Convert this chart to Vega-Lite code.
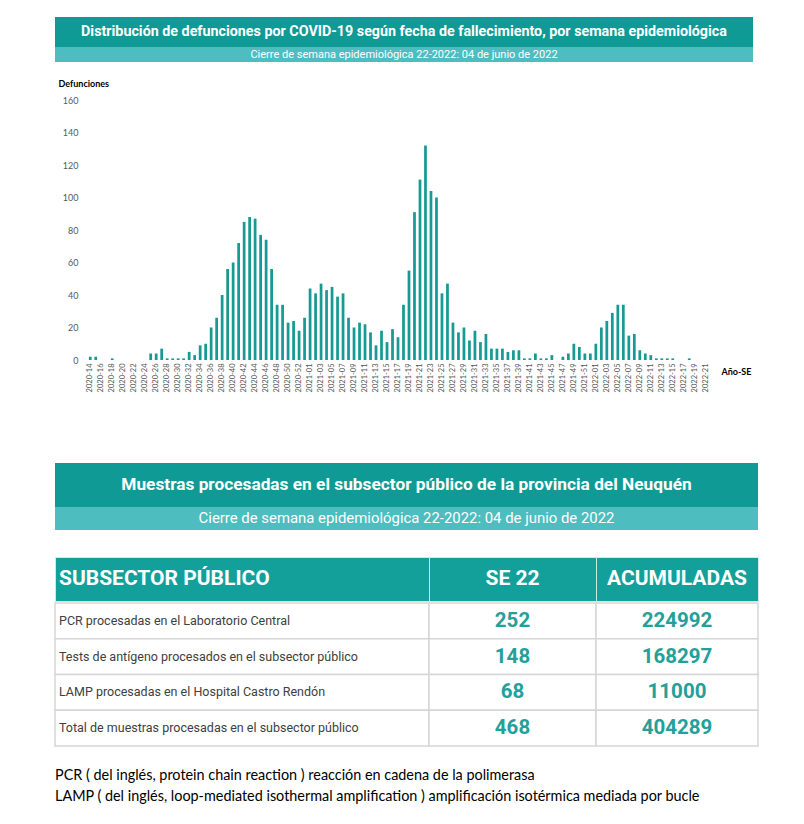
{
  "$schema": "https://vega.github.io/schema/vega-lite/v6.json",
  "padding": {"top": 17, "left": 54, "right": 0, "bottom": 0},
  "background": "white",
  "spacing": 0,
  "config": {"view": {"stroke": null}, "concat": {"spacing": 0}},
  "datasets": {
    "defunciones": [
      {"se": "2020-14", "def": 2}, {"se": "2020-15", "def": 2}, {"se": "2020-16", "def": 0}, {"se": "2020-17", "def": 0},
      {"se": "2020-18", "def": 1}, {"se": "2020-19", "def": 0}, {"se": "2020-20", "def": 0}, {"se": "2020-21", "def": 0},
      {"se": "2020-22", "def": 0}, {"se": "2020-23", "def": 0}, {"se": "2020-24", "def": 0}, {"se": "2020-25", "def": 4},
      {"se": "2020-26", "def": 4}, {"se": "2020-27", "def": 7}, {"se": "2020-28", "def": 1}, {"se": "2020-29", "def": 1},
      {"se": "2020-30", "def": 1}, {"se": "2020-31", "def": 1}, {"se": "2020-32", "def": 5}, {"se": "2020-33", "def": 3},
      {"se": "2020-34", "def": 9}, {"se": "2020-35", "def": 10}, {"se": "2020-36", "def": 20}, {"se": "2020-37", "def": 26},
      {"se": "2020-38", "def": 40}, {"se": "2020-39", "def": 56}, {"se": "2020-40", "def": 60}, {"se": "2020-41", "def": 72},
      {"se": "2020-42", "def": 85}, {"se": "2020-43", "def": 88}, {"se": "2020-44", "def": 87}, {"se": "2020-45", "def": 77},
      {"se": "2020-46", "def": 74}, {"se": "2020-47", "def": 56}, {"se": "2020-48", "def": 34}, {"se": "2020-49", "def": 34},
      {"se": "2020-50", "def": 23}, {"se": "2020-51", "def": 24}, {"se": "2020-52", "def": 18}, {"se": "2020-53", "def": 26},
      {"se": "2021-01", "def": 44}, {"se": "2021-02", "def": 41}, {"se": "2021-03", "def": 47}, {"se": "2021-04", "def": 43},
      {"se": "2021-05", "def": 45}, {"se": "2021-06", "def": 39}, {"se": "2021-07", "def": 41}, {"se": "2021-08", "def": 26},
      {"se": "2021-09", "def": 20}, {"se": "2021-10", "def": 23}, {"se": "2021-11", "def": 22}, {"se": "2021-12", "def": 17},
      {"se": "2021-13", "def": 9}, {"se": "2021-14", "def": 18}, {"se": "2021-15", "def": 11}, {"se": "2021-16", "def": 19},
      {"se": "2021-17", "def": 14}, {"se": "2021-18", "def": 34}, {"se": "2021-19", "def": 55}, {"se": "2021-20", "def": 91},
      {"se": "2021-21", "def": 111}, {"se": "2021-22", "def": 132}, {"se": "2021-23", "def": 104}, {"se": "2021-24", "def": 100},
      {"se": "2021-25", "def": 41}, {"se": "2021-26", "def": 47}, {"se": "2021-27", "def": 23}, {"se": "2021-28", "def": 17},
      {"se": "2021-29", "def": 20}, {"se": "2021-30", "def": 12}, {"se": "2021-31", "def": 18}, {"se": "2021-32", "def": 11},
      {"se": "2021-33", "def": 16}, {"se": "2021-34", "def": 7}, {"se": "2021-35", "def": 7}, {"se": "2021-36", "def": 7},
      {"se": "2021-37", "def": 5}, {"se": "2021-38", "def": 6}, {"se": "2021-39", "def": 6}, {"se": "2021-40", "def": 1},
      {"se": "2021-41", "def": 1}, {"se": "2021-42", "def": 4}, {"se": "2021-43", "def": 1}, {"se": "2021-44", "def": 1},
      {"se": "2021-45", "def": 3}, {"se": "2021-46", "def": 0}, {"se": "2021-47", "def": 2}, {"se": "2021-48", "def": 4},
      {"se": "2021-49", "def": 10}, {"se": "2021-50", "def": 8}, {"se": "2021-51", "def": 4}, {"se": "2021-52", "def": 4},
      {"se": "2022-01", "def": 10}, {"se": "2022-02", "def": 20}, {"se": "2022-03", "def": 24}, {"se": "2022-04", "def": 29},
      {"se": "2022-05", "def": 34}, {"se": "2022-06", "def": 34}, {"se": "2022-07", "def": 15}, {"se": "2022-08", "def": 16},
      {"se": "2022-09", "def": 6}, {"se": "2022-10", "def": 4}, {"se": "2022-11", "def": 3}, {"se": "2022-12", "def": 1},
      {"se": "2022-13", "def": 1}, {"se": "2022-14", "def": 1}, {"se": "2022-15", "def": 1}, {"se": "2022-16", "def": 0},
      {"se": "2022-17", "def": 0}, {"se": "2022-18", "def": 1}, {"se": "2022-19", "def": 0}, {"se": "2022-20", "def": 0},
      {"se": "2022-21", "def": 0}, {"se": "2022-22", "def": 0}
    ],
    "tabla": [
      {"concepto": "PCR procesadas en el Laboratorio Central", "se22": 252, "acumuladas": 224992},
      {"concepto": "Tests de antígeno procesados en el subsector público", "se22": 148, "acumuladas": 168297},
      {"concepto": "LAMP procesadas en el Hospital Castro Rendón", "se22": 68, "acumuladas": 11000},
      {"concepto": "Total de muestras procesadas en el subsector público", "se22": 468, "acumuladas": 404289}
    ],
    "notas": [
      {"n": 1, "t": "PCR ( del inglés, protein chain reaction ) reacción en cadena de la polimerasa"},
      {"n": 2, "t": "LAMP ( del inglés, loop-mediated isothermal amplification ) amplificación isotérmica mediada por bucle"}
    ]
  },
  "vconcat": [
    {
      "width": 698, "height": 30,
      "view": {"fill": "#0f9a95", "stroke": null},
      "data": {"values": [{"t": "Distribución de defunciones por COVID-19 según fecha de fallecimiento, por semana epidemiológica"}]},
      "mark": {"type": "text", "color": "white", "font": "Roboto", "fontSize": 14.3, "fontWeight": "bold"},
      "encoding": {"text": {"field": "t"}}
    },
    {
      "width": 698, "height": 15,
      "view": {"fill": "#4dbdc0", "stroke": null},
      "data": {"values": [{"t": "Cierre de semana epidemiológica 22-2022: 04 de junio de 2022"}]},
      "mark": {"type": "text", "color": "white", "font": "Roboto", "fontSize": 11},
      "encoding": {"text": {"field": "t"}}
    },
    {"width": 1, "height": 17, "view": {"fill": "white", "stroke": null}, "data": {"values": []}, "mark": "point", "encoding": {}},
    {
      "width": 659, "height": 260,
      "data": {"name": "defunciones"},
      "mark": {"type": "bar", "color": "#179a94"},
      "encoding": {
        "x": {
          "field": "se", "type": "nominal", "sort": null,
          "scale": {"paddingInner": 0.5, "paddingOuter": 0.25, "range": [32.5, 659]},
          "axis": {
            "title": "Año-SE", "titleX": 666, "titleY": 11, "titleAlign": "left", "titleBaseline": "middle",
            "titleFont": "Lato", "titleFontSize": 9, "titleFontWeight": "bold", "titleColor": "#000000",
            "labelAngle": -90, "labelFont": "Lato", "labelFontSize": 7.5, "labelColor": "#555555", "labelPadding": 3,
            "labelOverlap": false, "domain": false, "ticks": false,
            "values": ["2020-14","2020-16","2020-18","2020-20","2020-22","2020-24","2020-26","2020-28","2020-30","2020-32","2020-34","2020-36","2020-38","2020-40","2020-42","2020-44","2020-46","2020-48","2020-50","2020-52",
                       "2021-01","2021-03","2021-05","2021-07","2021-09","2021-11","2021-13","2021-15","2021-17","2021-19","2021-21","2021-23","2021-25","2021-27","2021-29","2021-31","2021-33","2021-35","2021-37","2021-39","2021-41","2021-43","2021-45","2021-47","2021-49","2021-51",
                       "2022-01","2022-03","2022-05","2022-07","2022-09","2022-11","2022-13","2022-15","2022-17","2022-19","2022-21"]
          }
        },
        "y": {
          "field": "def", "type": "quantitative",
          "scale": {"domain": [0, 160], "nice": false},
          "axis": {
            "values": [0, 20, 40, 60, 80, 100, 120, 140, 160],
            "grid": false, "domain": false, "ticks": false, "offset": -32.5, "labelPadding": 9.5,
            "labelFont": "Lato", "labelFontSize": 9, "labelColor": "#595959",
            "title": "Defunciones", "titleAngle": 0, "titleX": -29.5, "titleY": -17, "titleAlign": "left", "titleBaseline": "middle",
            "titleFont": "Lato", "titleFontSize": 9, "titleFontWeight": "bold", "titleColor": "#000000"
          }
        }
      }
    },
    {"width": 1, "height": 71, "view": {"fill": "white", "stroke": null}, "data": {"values": []}, "mark": "point", "encoding": {}},
    {
      "width": 703, "height": 44,
      "view": {"fill": "#0f9a95", "stroke": null},
      "data": {"values": [{"t": "Muestras procesadas en el subsector público de la provincia del Neuquén"}]},
      "mark": {"type": "text", "color": "white", "font": "Roboto", "fontSize": 17.3, "fontWeight": "bold"},
      "encoding": {"text": {"field": "t"}}
    },
    {
      "width": 703, "height": 23,
      "view": {"fill": "#4dbdc0", "stroke": null},
      "data": {"values": [{"t": "Cierre de semana epidemiológica 22-2022: 04 de junio de 2022"}]},
      "mark": {"type": "text", "color": "white", "font": "Roboto", "fontSize": 14.9},
      "encoding": {"text": {"field": "t"}}
    },
    {"width": 1, "height": 26, "view": {"fill": "white", "stroke": null}, "data": {"values": []}, "mark": "point", "encoding": {}},
    {
      "bounds": "flush",
      "spacing": 0,
      "hconcat": [
        {
          "width": 374, "height": 44,
          "view": {"fill": "#13a09b", "stroke": "#d0e8e6"},
          "data": {"values": [{"h": "SUBSECTOR PÚBLICO"}]},
          "mark": {"type": "text", "color": "white", "font": "Roboto", "fontSize": 21, "fontWeight": "bold", "align": "left"},
          "encoding": {"text": {"field": "h"}, "x": {"value": 4}}
        },
        {
          "width": 167, "height": 44,
          "view": {"fill": "#13a09b", "stroke": "#d0e8e6"},
          "data": {"values": [{"h": "SE 22"}]},
          "mark": {"type": "text", "color": "white", "font": "Roboto", "fontSize": 21, "fontWeight": "bold"},
          "encoding": {"text": {"field": "h"}}
        },
        {
          "width": 162, "height": 44,
          "view": {"fill": "#13a09b", "stroke": "#d0e8e6"},
          "data": {"values": [{"h": "ACUMULADAS"}]},
          "mark": {"type": "text", "color": "white", "font": "Roboto", "fontSize": 21, "fontWeight": "bold"},
          "encoding": {"text": {"field": "h"}}
        }
      ]
    },
    {
      "bounds": "flush",
      "spacing": 0,
      "hconcat": [
        {
          "width": 374, "height": 143,
          "data": {"name": "tabla"},
          "encoding": {"y": {"field": "concepto", "type": "nominal", "sort": null, "axis": null, "scale": {"paddingInner": 0, "paddingOuter": 0}}},
          "layer": [
            {"mark": {"type": "rect", "fill": "white", "stroke": "#d6d6d6", "strokeWidth": 1.5}, "encoding": {"x": {"value": 0}, "x2": {"value": "width"}}},
            {"mark": {"type": "text", "align": "left", "color": "#404040", "font": "Roboto", "fontSize": 12.5}, "encoding": {"text": {"field": "concepto"}, "x": {"value": 4}}}
          ]
        },
        {
          "width": 167, "height": 143,
          "data": {"name": "tabla"},
          "encoding": {"y": {"field": "concepto", "type": "nominal", "sort": null, "axis": null, "scale": {"paddingInner": 0, "paddingOuter": 0}}},
          "layer": [
            {"mark": {"type": "rect", "fill": "white", "stroke": "#d6d6d6", "strokeWidth": 1.5}, "encoding": {"x": {"value": 0}, "x2": {"value": "width"}}},
            {"mark": {"type": "text", "color": "#23a099", "font": "Roboto", "fontSize": 20.5, "fontWeight": "bold"}, "encoding": {"text": {"field": "se22"}}}
          ]
        },
        {
          "width": 162, "height": 143,
          "data": {"name": "tabla"},
          "encoding": {"y": {"field": "concepto", "type": "nominal", "sort": null, "axis": null, "scale": {"paddingInner": 0, "paddingOuter": 0}}},
          "layer": [
            {"mark": {"type": "rect", "fill": "white", "stroke": "#d6d6d6", "strokeWidth": 1.5}, "encoding": {"x": {"value": 0}, "x2": {"value": "width"}}},
            {"mark": {"type": "text", "color": "#23a099", "font": "Roboto", "fontSize": 20.5, "fontWeight": "bold"}, "encoding": {"text": {"field": "acumuladas"}}}
          ]
        }
      ]
    },
    {"width": 1, "height": 18, "view": {"fill": "white", "stroke": null}, "data": {"values": []}, "mark": "point", "encoding": {}},
    {
      "width": 703, "height": 42,
      "view": {"fill": "white", "stroke": null},
      "data": {"name": "notas"},
      "mark": {"type": "text", "align": "left", "color": "#000000", "font": "Lato", "fontSize": 14.4},
      "encoding": {
        "y": {"field": "n", "type": "ordinal", "axis": null},
        "x": {"value": 0},
        "text": {"field": "t"}
      }
    }
  ]
}
